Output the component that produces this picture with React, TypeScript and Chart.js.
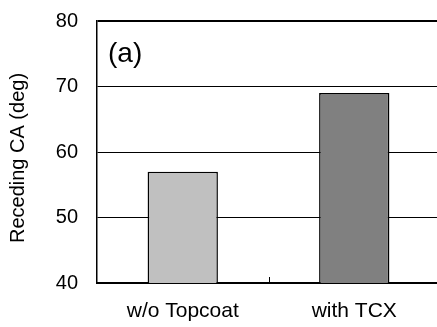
import React, { useEffect, useRef } from "react";
import { Chart, registerables } from "chart.js";

Chart.register(...registerables);

const categories = ["w/o Topcoat", "with TCX"];
const recedingCA = [57, 69];
const barColors = ["#C0C0C0", "#808080"];
const yTicks = [40, 50, 60, 70, 80];
const panelLabel = "(a)";
const yTitle = "Receding CA (deg)";

const FONT = "Arial, 'Liberation Sans', sans-serif";

const overlay = {
  id: "overlay",
  afterDraw(chart: any) {
    const { ctx, chartArea, scales } = chart;
    ctx.save();
    ctx.strokeStyle = "#000";
    ctx.lineWidth = 1;
    const xs = scales.x;
    for (let i = 0; i < categories.length - 1; i++) {
      const mid = (xs.getPixelForValue(i) + xs.getPixelForValue(i + 1)) / 2;
      const xm = Math.round(mid) + 0.5;
      ctx.beginPath();
      ctx.moveTo(xm, chartArea.bottom);
      ctx.lineTo(xm, chartArea.bottom - 6);
      ctx.stroke();
    }
    ctx.fillStyle = "#000";
    ctx.font = `28px ${FONT}`;
    ctx.textBaseline = "middle";
    ctx.textAlign = "left";
    ctx.fillText(panelLabel, chartArea.left + 11, chartArea.top + 33);
    // y-axis title
    ctx.font = `20px ${FONT}`;
    ctx.textAlign = "center";
    ctx.translate(18, (chartArea.top + chartArea.bottom) / 2 + 6);
    ctx.rotate(-Math.PI / 2);
    ctx.fillText(yTitle, 0, 0);
    ctx.restore();
  },
};

export default function App() {
  const ref = useRef<HTMLCanvasElement | null>(null);
  useEffect(() => {
    if (!ref.current) return;
    const chart = new Chart(ref.current, {
      type: "bar",
      data: {
        labels: categories,
        datasets: [
          {
            data: recedingCA,
            backgroundColor: barColors,
            borderColor: "#000",
            borderWidth: 1.5,
            barPercentage: 0.41,
            categoryPercentage: 1,
          },
        ],
      },
      options: {
        animation: false,
        responsive: false,
        devicePixelRatio: 1,
        layout: { padding: { top: 21, right: 5, left: 6, bottom: 3 } },
        plugins: { legend: { display: false }, tooltip: { enabled: false } },
        scales: {
          x: {
            grid: { display: false, drawTicks: false },
            border: { display: true, color: "#000", width: 2 },
            afterFit: (s: any) => {
              s.height = 41;
            },
            ticks: {
              color: "#000",
              font: { family: FONT, size: 21 },
              padding: 16,
            },
          },
          y: {
            min: 40,
            max: 80,
            afterBuildTicks: (s: any) => {
              s.ticks = yTicks.map((v) => ({ value: v }));
            },
            afterFit: (s: any) => {
              s.width = 91;
              s.paddingTop = 0;
              s.paddingBottom = 0;
            },
            grid: {
              color: "#000",
              lineWidth: (c: any) => (c.tick && c.tick.value === 80 ? 2 : 1),
              drawTicks: false,
            },
            border: { display: true, color: "#000", width: 1.5 },
            ticks: {
              color: "#000",
              font: { family: FONT, size: 20 },
              padding: 19,
            },
            title: { display: false },
          },
        },
      },
      plugins: [overlay],
    });
    return () => chart.destroy();
  }, []);
  return (
    <div style={{ position: "fixed", left: 0, top: 0, width: 445, height: 327 }}>
      <canvas ref={ref} width={445} height={327} style={{ display: "block" }} />
    </div>
  );
}
